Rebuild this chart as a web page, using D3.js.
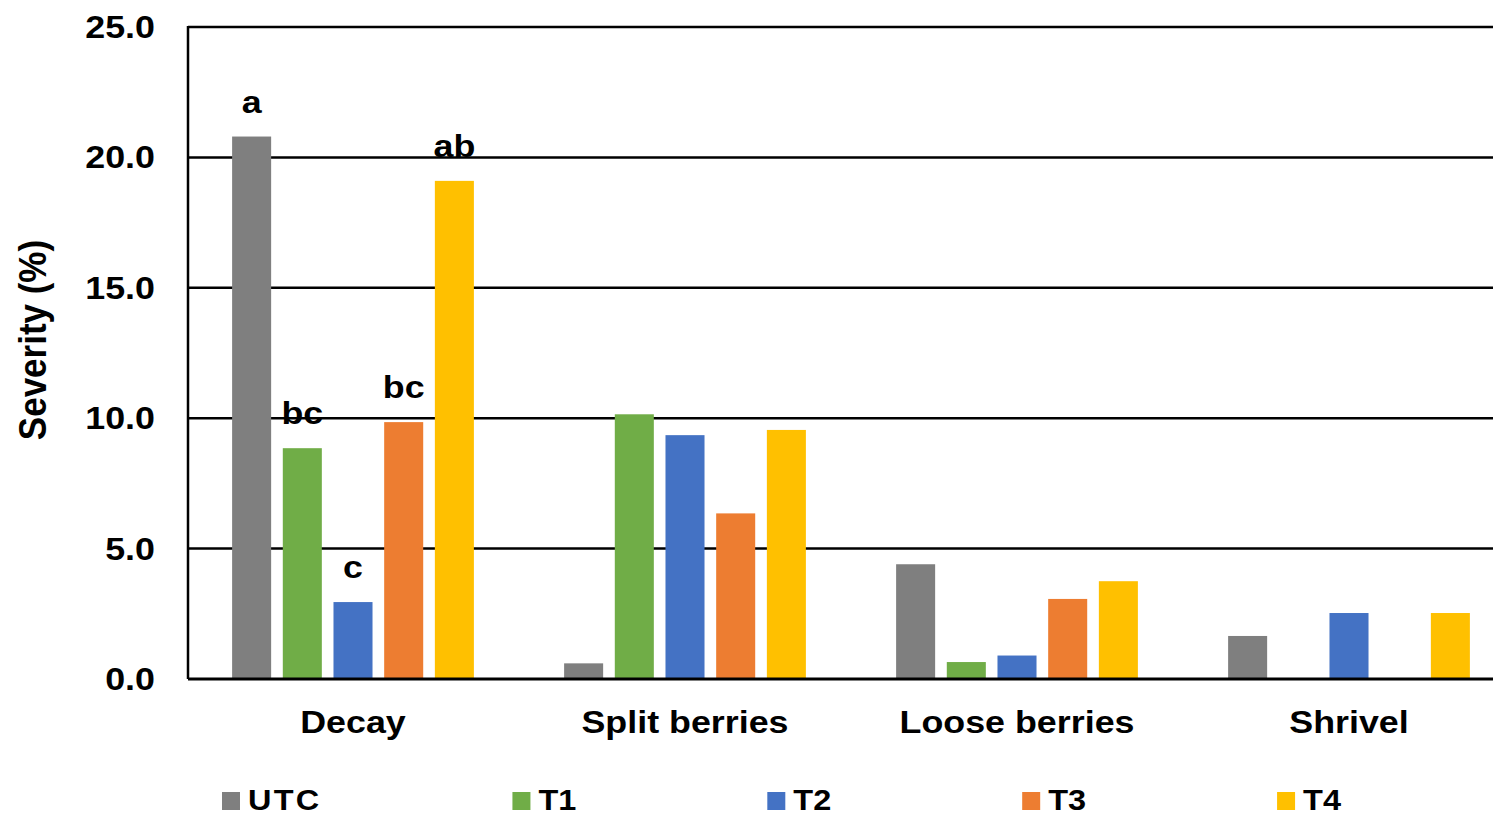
<!DOCTYPE html>
<html>
<head>
<meta charset="utf-8">
<script src="https://cdn.jsdelivr.net/npm/d3@7"></script>
<style>
  body { margin: 0; background: #fff; }
  svg text { font-family: "Liberation Sans", Arial, sans-serif; font-weight: bold; fill: #000; }
</style>
</head>
<body>
<svg id="chart"></svg>
<script>
var categories = ["Decay", "Split berries", "Loose berries", "Shrivel"];
var series = ["UTC", "T1", "T2", "T3", "T4"];
var colors = ["#7f7f7f", "#70ad47", "#4472c4", "#ed7d31", "#ffc000"];

// severity (%) per treatment, in category order
var utc = [20.8, 0.6, 4.4, 1.65];
var t1  = [8.85, 10.15, 0.65, 0];
var t2  = [2.95, 9.35, 0.9, 2.53];
var t3  = [9.85, 6.35, 3.07, 0];
var t4  = [19.1, 9.55, 3.75, 2.53];
var values = [utc, t1, t2, t3, t4];

// significance letters (Decay only)
var letters = [["a", "bc", "c", "bc", "ab"], [], [], []];

var yTicks = [0, 5, 10, 15, 20, 25];

var W = 1493, H = 817;
var stretch = 1.12;

var svg = d3.select("#chart").attr("width", W).attr("height", H);

var x = d3.scaleBand().domain(categories).range([187, 1515]);
var xs = d3.scaleBand().domain(series).range([0, x.bandwidth()])
           .paddingInner(0.23).paddingOuter(0.89);
var y = d3.scaleLinear().domain([0, 25]).range([679, 27]);

// gridlines
svg.append("g").selectAll("line")
   .data(yTicks.slice(1))
   .enter().append("line")
   .attr("x1", 188).attr("x2", W)
   .attr("y1", function(d){ return y(d); })
   .attr("y2", function(d){ return y(d); })
   .attr("stroke", "#000").attr("stroke-width", 2.5);

// tick labels
svg.append("g").selectAll("text")
   .data(yTicks)
   .enter().append("text")
   .attr("transform", function(d){ return "translate(155," + (y(d) + 11) + ") scale(" + stretch + ",1)"; })
   .attr("text-anchor", "end")
   .attr("font-size", 32)
   .text(function(d){ return d.toFixed(1); });

// bars
var rows = [];
categories.forEach(function(c, ci){
    series.forEach(function(s, si){
        rows.push({cat: c, ser: s, si: si, v: values[si][ci], lab: letters[ci][si]});
    });
});

svg.append("g").selectAll("rect")
   .data(rows.filter(function(d){ return d.v > 0; }))
   .enter().append("rect")
   .attr("x", function(d){ return x(d.cat) + xs(d.ser); })
   .attr("width", xs.bandwidth())
   .attr("y", function(d){ return y(d.v); })
   .attr("height", function(d){ return y(0) - y(d.v); })
   .attr("fill", function(d){ return colors[d.si]; });

// letters above bars
svg.append("g").selectAll("text")
   .data(rows.filter(function(d){ return d.lab; }))
   .enter().append("text")
   .attr("transform", function(d){
       return "translate(" + (x(d.cat) + xs(d.ser) + xs.bandwidth() / 2) + "," + (y(d.v) - 24) + ") scale(" + stretch + ",1)";
   })
   .attr("text-anchor", "middle")
   .attr("font-size", 32)
   .text(function(d){ return d.lab; });

// axes lines
svg.append("line").attr("x1", 188).attr("x2", 188).attr("y1", y(25) - 1).attr("y2", y(0))
   .attr("stroke", "#000").attr("stroke-width", 2.5);
svg.append("line").attr("x1", 188).attr("x2", W).attr("y1", y(0)).attr("y2", y(0))
   .attr("stroke", "#000").attr("stroke-width", 3);

// category labels
svg.append("g").selectAll("text")
   .data(categories)
   .enter().append("text")
   .attr("transform", function(d){ return "translate(" + (x(d) + x.bandwidth() / 2) + ",733) scale(" + stretch + ",1)"; })
   .attr("text-anchor", "middle")
   .attr("font-size", 32)
   .text(function(d){ return d; });

// y title
svg.append("text")
   .attr("transform", "translate(46,340) scale(" + stretch + ",1) rotate(-90)")
   .attr("text-anchor", "middle")
   .attr("font-size", 35)
   .text("Severity (%)");

// legend
var lg = svg.append("g");
var lx = 222;
series.forEach(function(s, i){
    lg.append("rect").attr("x", lx).attr("y", 792).attr("width", 18).attr("height", 18)
      .attr("fill", colors[i]);
    var t = lg.append("text")
      .attr("transform", "translate(" + (lx + 26) + ",810) scale(" + stretch + ",1)")
      .attr("font-size", 29)
      .attr("letter-spacing", s === "UTC" ? 2 : 0)
      .text(s);
    var tw = t.node().getComputedTextLength() * stretch;
    lx = lx + 26 + tw + 191;
});
</script>
</body>
</html>
